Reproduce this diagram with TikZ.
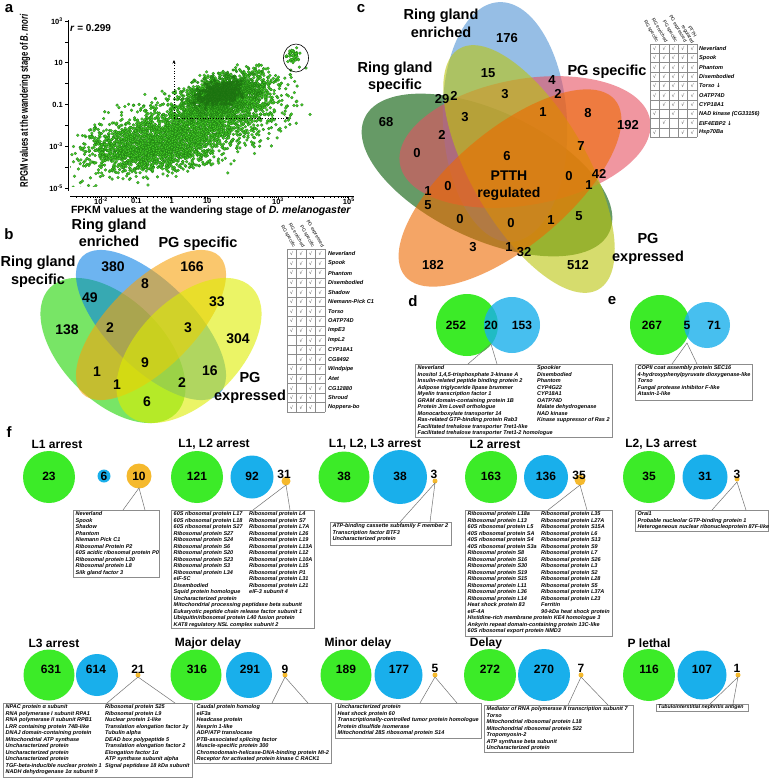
\documentclass[tikz,border=0pt]{standalone}
\usepackage{fontspec}
\setmainfont{Liberation Sans}
\newfontfamily\djv{DejaVu Sans}
\usetikzlibrary{arrows.meta}
\definecolor{dotg}{RGB}{70,205,40}
\definecolor{dotm}{RGB}{52,165,30}
\definecolor{dotc}{RGB}{35,120,20}
\definecolor{dotd}{RGB}{25,115,15}
\definecolor{fgreen}{RGB}{60,235,40}
\definecolor{fblue}{RGB}{25,175,235}
\definecolor{forange}{RGB}{245,185,45}
\definecolor{bgreen}{RGB}{30,213,0}
\definecolor{bblue}{RGB}{13,130,230}
\definecolor{borange}{RGB}{247,163,13}
\definecolor{byellow}{RGB}{222,238,0}
\definecolor{cgreen}{RGB}{0,88,0}
\definecolor{cblue}{RGB}{80,147,213}
\definecolor{cred}{RGB}{230,80,97}
\definecolor{cyellow}{RGB}{188,197,13}
\definecolor{corange}{RGB}{238,105,0}
\tikzset{
 plab/.style={font=\fontsize{15}{15}\selectfont\bfseries, inner sep=0},
 vlab/.style={font=\fontsize{14.5}{17.5}\selectfont\bfseries, align=center, inner sep=0},
 bnum/.style={font=\fontsize{14}{14}\selectfont\bfseries, inner sep=0},
 cnum/.style={font=\fontsize{13}{13}\selectfont\bfseries, inner sep=0},
 ttl/.style={font=\fontsize{12}{12}\selectfont\bfseries, inner sep=0},
 cnt/.style={font=\fontsize{12}{12}\selectfont\bfseries, inner sep=0},
 lst/.style={font=\fontsize{5.5}{6.5}\selectfont\bfseries\itshape, align=left, inner sep=0, anchor=north west},
 lbox/.style={draw=black!45, line width=0.6pt, fill=white},
 call/.style={draw=black!55, line width=0.5pt},
 tname/.style={font=\fontsize{5.6}{5.6}\selectfont\bfseries\itshape, anchor=west, inner sep=0},
 tchk/.style={font=\djv\fontsize{4.8}{4.8}\selectfont, text=black!75, inner sep=0},
 thead/.style={font=\fontsize{4.8}{5.2}\selectfont, anchor=east, rotate=-60, inner sep=0pt, align=center},
 tgrid/.style={draw=black!45, line width=0.3pt},
 axl/.style={line width=0.7pt, black},
 tick/.style={font=\fontsize{7.5}{7.5}\selectfont\bfseries, inner sep=0},
}
\begin{document}
\begin{tikzpicture}[x=1pt,y=-1pt]
\useasboundingbox (0,0) rectangle (778,780);
\fill[white] (0,0) rectangle (778,780);

% ---------------- panel labels
\node[plab] (la) at (9,9) {a};
\node[plab] (lb) at (9,234) {b};
\node[plab] (lc) at (361,9) {c};
\node[plab] (ld) at (413,301) {d};
\node[plab] (le) at (612,301) {e};
\node[plab] (lf) at (9,432) {f};

% ---------------- panel a : scatter
\begin{scope}
\clip (70,24) rectangle (340,186);
\pgfmathsetseed{4242}
\begin{scope}[fill=dotg, draw=dotd, line width=0.2pt]
\foreach \i in {1,...,2700}{
  \pgfmathsetmacro\ta{rand+rand+rand}
  \pgfmathsetmacro\tb{rand+rand+rand}
  \filldraw ({188+44*\ta},{128-12*\ta+17*\tb}) circle[radius=1.45];
}
\foreach \i in {1,...,900}{
  \pgfmathsetmacro\ta{rand+rand+rand}
  \pgfmathsetmacro\tb{rand+rand+rand}
  \filldraw ({148+30*\ta},{150+10*\tb}) circle[radius=1.45];
}
\foreach \i in {1,...,1100}{
  \pgfmathsetmacro\ta{rand+rand+rand}
  \pgfmathsetmacro\tb{rand+rand+rand}
  \filldraw ({224+22*\ta},{95-4*\ta+11*\tb}) circle[radius=1.45];
}
\foreach \i in {1,...,45}{
  \pgfmathsetmacro\ta{rand+rand+rand}
  \pgfmathsetmacro\tb{rand+rand+rand}
  \filldraw ({293+3.5*\ta},{56+4*\tb}) circle[radius=1.45];
}
\end{scope}
\begin{scope}[fill=dotm, draw=dotd, line width=0.2pt]
\foreach \i in {1,...,550}{
  \pgfmathsetmacro\ta{rand+rand+rand}
  \pgfmathsetmacro\tb{rand+rand+rand}
  \filldraw ({222+17*\ta},{94-3*\ta+9*\tb}) circle[radius=1.45];
}
\end{scope}
\begin{scope}[fill=dotc, draw=dotd, line width=0.2pt]
\foreach \i in {1,...,320}{
  \pgfmathsetmacro\ta{rand+rand+rand}
  \pgfmathsetmacro\tb{rand+rand+rand}
  \filldraw ({220+10*\ta},{93-2*\ta+5.5*\tb}) circle[radius=1.45];
}
\end{scope}
\end{scope}
\coordinate (clc) at (296,58);
\draw[line width=0.6pt] (clc) ellipse[x radius=12.5, y radius=14];
\coordinate (ao) at (174,118);
\coordinate (au) at (174,60);
\coordinate (ar) at (289,118);
\draw[dotted, line width=0.6pt, -{Stealth[length=3.5pt,width=3pt]}] (ao) -- (au);
\draw[dotted, line width=0.6pt, -{Stealth[length=3.5pt,width=3pt]}] (ao) -- (ar);
% axes
\coordinate (yat) at (68,20);
\coordinate (yab) at (68,191);
\coordinate (xal) at (70,196);
\coordinate (xar) at (354,196);
\draw[axl] (yat) -- (yab);
\draw[axl] (xal) -- (xar);
\foreach \k in {0,...,8}{ \draw[axl] (68,{21+20.9*\k}) -- ++(-3,0); }
\foreach \L in {-2,...,5}{ \draw[axl] ({101+35.4*(\L+2)},196) -- ++(0,2.5); }
\foreach \L in {-3,...,4}{ \foreach \k in {2,...,9}{
  \pgfmathsetmacro\xx{101+35.4*(\L+2)+35.4*ln(\k)/2.302585}
  \ifdim\xx pt>70pt \ifdim\xx pt<354pt \draw[line width=0.5pt] (\xx,196) -- ++(0,1.6); \fi\fi }}
\node[tick, anchor=east] (y3) at (63,21) {10\textsuperscript{3}};
\node[tick, anchor=east] (y1) at (63,62.8) {10};
\node[tick, anchor=east] (y0) at (63,104.6) {0.1};
\node[tick, anchor=east] (ym3) at (63,146.4) {10\textsuperscript{-3}};
\node[tick, anchor=east] (ym5) at (63,188.2) {10\textsuperscript{-5}};
\node[tick] (xm2) at (101,201) {10\textsuperscript{-2}};
\node[tick] (xm1) at (136.4,201) {0.1};
\node[tick] (x0) at (171.8,201) {1};
\node[tick] (x1) at (207.2,201) {10};
\node[tick] (x3) at (278,201) {10\textsuperscript{3}};
\node[tick] (x5) at (348.8,201) {10\textsuperscript{5}};
\node[font=\fontsize{10.5}{10.5}\selectfont\bfseries, inner sep=0] (xlab) at (211,210.5) {FPKM values at the wandering stage of \textit{D. melanogaster}};
\node[font=\fontsize{11}{11}\selectfont\bfseries, inner sep=0, rotate=90] (ylab) at (25,101) {\scalebox{0.7}[1]{RPGM values at the wandering stage of \textit{B. mori}}};
\node[font=\fontsize{10}{10}\selectfont\bfseries, anchor=west, inner sep=0] (rv) at (70,28) {\textit{r} = 0.299};

% ---------------- panel b : 4-set Venn
\begin{scope}[fill opacity=0.6]
\fill[bgreen, rotate around={-45:(113,350.5)}] (113,350.5) ellipse[x radius=89, y radius=51];
\fill[bblue, rotate around={-45:(151,325)}] (151,325) ellipse[x radius=97, y radius=43];
\fill[borange, rotate around={45:(151,325)}] (151,325) ellipse[x radius=97, y radius=43];
\fill[byellow, rotate around={45:(189,350.5)}] (189,350.5) ellipse[x radius=89, y radius=51];
\end{scope}
\node[vlab] (bl1) at (109,233) {Ring gland\\enriched};
\node[vlab] (bl2) at (38,271.5) {Ring gland\\specific};
\node[vlab] (bl3) at (198,244) {PG specific};
\node[vlab] (bl4) at (250,388) {PG\\expressed};
\foreach \n/\x/\y [count=\i] in {380/113/267, 166/192/267, 49/90/298, 8/145/284, 33/217/302, 138/67/330, 2/110/328, 3/188/328, 304/238/339, 9/145/363, 1/97/372, 16/210/371, 1/117/385, 2/182/383, 6/147/402}
  \node[bnum] (bn\i) at (\x,\y) {\n};

% table b
\foreach \j in {0,...,17} \draw[tgrid] (287,{249+9.6*\j}) -- (325,{249+9.6*\j});
\foreach \j in {0,...,4} \draw[tgrid] ({287+9.5*\j},249) -- ({287+9.5*\j},412.2);
\foreach \h [count=\k] in {RG specific, RG enriched, PG specific, PG expressed}
  \node[thead] (bh\k) at ({287+9.5*(\k-0.5)+2.5},247) {\h};
\foreach \r/\nm/\ca/\cb/\cc/\cd in {1/Neverland/1/1/1/1, 2/Spook/1/1/1/1, 3/Phantom/1/1/1/1, 4/Disembodied/1/1/1/1, 5/Shadow/1/1/1/1, 6/Niemann-Pick C1/1/1/1/1, 7/Torso/1/1/1/1, 8/OATP74D/1/1/1/1, 9/ImpE3/1/1/1/1, 10/ImpL2/0/1/1/1, 11/CYP18A1/0/1/1/1, 12/CG8492/0/1/1/1, 13/Windpipe/1/1/0/1, 14/Atet/1/1/0/1, 15/CG12880/1/0/1/1, 16/Shroud/1/1/1/0, 17/Noppera-bo/1/1/1/0}{
  \node[tname] (bt\r) at (328,{249+9.6*(\r-0.5)}) {\nm};
  \foreach \cv [count=\k] in {\ca,\cb,\cc,\cd}{
    \ifnum\cv=1 \node[tchk] (bk\r-\k) at ({287+9.5*(\k-0.5)},{249+9.6*(\r-0.5)}) {√};\fi }
}

% ---------------- panel c : 5-set Venn
\begin{scope}[fill opacity=0.6]
\fill[cgreen, rotate around={-25:(487,175)}] (487,175) ellipse[x radius=135, y radius=64];
\fill[cblue, rotate around={-87:(505,122)}] (505,122) ellipse[x radius=120, y radius=62];
\fill[cred, rotate around={10:(525,142)}] (525,142) ellipse[x radius=127, y radius=63];
\fill[cyellow, rotate around={-60:(529,169)}] (529,169) ellipse[x radius=139, y radius=58];
\fill[corange, rotate around={40:(510,188)}] (510,188) ellipse[x radius=137, y radius=58];
\end{scope}
\node[vlab] (cl1) at (441,23.5) {Ring gland\\enriched};
\node[vlab] (cl2) at (395,77) {Ring gland\\specific};
\node[vlab] (cl3) at (607,72) {PG specific};
\node[vlab] (cl4) at (648,249) {PG\\expressed};
\node[vlab, font=\fontsize{14}{17}\selectfont\bfseries] (cl5) at (509,185.5) {PTTH\\regulated};
\foreach \n/\x/\y [count=\i] in {176/507/38, 15/488/73, 4/552/80, 2/558/94, 29/442/99, 2/454/96, 3/505/94, 1/543/112, 8/588/113, 3/465/117, 68/386/122, 192/628/125, 2/442/135, 0/417/153, 7/581/146, 6/507/156, 0/569/176, 42/599/174, 1/589/185, 0/448/186, 1/428/191, 5/428/205, 0/460/219, 0/511/223, 1/551/220, 5/579/216, 3/473/247, 1/509/247, 32/524/252, 182/433/265, 512/578/265}
  \node[cnum] (cn\i) at (\x,\y) {\n};

% table c
\foreach \j in {0,...,10} \draw[tgrid] (650,{44+9.3*\j}) -- (697,{44+9.3*\j});
\foreach \j in {0,...,5} \draw[tgrid] ({650+9.4*\j},44) -- ({650+9.4*\j},137);
\foreach \h [count=\k] in {RG specific, RG enriched, PG specific, PG expressed, PTTH\\regulated}
  \node[thead] (ch\k) at ({650+9.4*(\k-0.5)+2.5},42) {\h};
\foreach \r/\nm/\ca/\cb/\cc/\cd/\ce in {1/Neverland/1/1/1/1/1, 2/Spook/1/1/1/1/1, 3/Phantom/1/1/1/1/1, 4/Disembodied/1/1/1/1/1, 5/{Torso {\djv ↓}}/1/1/1/1/1, 6/OATP74D/1/1/1/1/1, 7/CYP18A1/0/1/1/1/1, 8/{NAD kinase (CG33156)}/1/0/1/0/1, 9/{EIF4EBP2 {\djv ↓}}/0/1/0/1/1, 10/Hsp70Ba/1/0/0/1/1}{
  \node[tname] (ct\r) at (699,{44+9.3*(\r-0.5)}) {\nm};
  \foreach \cv [count=\k] in {\ca,\cb,\cc,\cd,\ce}{
    \ifnum\cv=1 \node[tchk] (ck\r-\k) at ({650+9.4*(\k-0.5)},{44+9.3*(\r-0.5)}) {√};\fi }
}

% ---------------- panel d
\fill[fgreen] (467,325) circle[radius=31];
\fill[fblue, opacity=0.8] (512,325) circle[radius=28];
\node[cnt] (d1) at (456,325) {252};
\node[cnt] (d2) at (491,325) {20};
\node[cnt] (d3) at (522,325) {153};
\coordinate (dap) at (491,344);
\coordinate (dba) at (415,364);
\coordinate (dbb) at (612,437);
\coordinate (dp1) at (468,364);
\coordinate (dp2) at (497,364);
\draw[lbox] (dba) rectangle (dbb);
\draw[call] (dp1) -- (dap) -- (dp2);
\node[lst] (dt1) at (417.5,365.5) {Neverland\\Inositol 1,4,5-trisphosphate 3-kinase A\\Insulin-related peptide binding protein 2\\Adipose triglyceride lipase brummer\\Myelin transcription factor 1\\GRAM domain-containing protein 1B\\Protein Jim Lovell orthologue\\Monocarboxylate transporter 14\\Ras-related GTP-binding protein Rab3\\Facilitated trehalose transporter Tret1-like\\Facilitated trehalose transporter Tret1-2 homologue};
\node[lst] (dt2) at (537,365.5) {Spookier\\Disembodied\\Phantom\\CYP4G22\\CYP18A1\\OATP74D\\Malate dehydrogenase\\NAD kinase\\Kinase suppressor of Ras 2};

% ---------------- panel e
\fill[fgreen] (660,325) circle[radius=30];
\fill[fblue, opacity=0.8] (707,325) circle[radius=23];
\node[cnt] (e1) at (652,325) {267};
\node[cnt] (e2) at (687,325) {5};
\node[cnt] (e3) at (714,325) {71};
\coordinate (eap) at (687,343);
\coordinate (eba) at (635,364);
\coordinate (ebb) at (752,400);
\coordinate (ep1) at (672,364);
\coordinate (ep2) at (697,364);
\draw[lbox] (eba) rectangle (ebb);
\draw[call] (ep1) -- (eap) -- (ep2);
\node[lst] (et1) at (637.5,365.5) {COPII coat assembly protein SEC16\\4-hydroxyphenylpyruvate dioxygenase-like\\Torso\\Fungal protease inhibitor F-like\\Ataxin-1-like};

% ---------------- panel f, row 1
\node[ttl] (t1) at (57,444) {L1 arrest};
\node[ttl] (t2) at (214,444) {L1, L2 arrest};
\node[ttl] (t3) at (375,444) {L1, L2, L3 arrest};
\node[ttl] (t4) at (495,444) {L2 arrest};
\node[ttl] (t5) at (661,444) {L2, L3 arrest};
% L1
\fill[fgreen] (49,477) circle[radius=26];
\fill[fblue] (104,476) circle[radius=6.5];
\fill[forange] (139,476) circle[radius=12.5];
\node[cnt] (n11) at (49,476) {23};
\node[cnt] (n12) at (104,476) {6};
\node[cnt] (n13) at (139,476) {10};
\coordinate (a1) at (139,488);
\coordinate (p1a) at (123,510);
\coordinate (p1b) at (145,510);
\coordinate (b1a) at (73,510);
\coordinate (b1b) at (159,577);
\draw[lbox] (b1a) rectangle (b1b);
\draw[call] (p1a) -- (a1) -- (p1b);
\node[lst] (l1) at (75.5,511.5) {Neverland\\Spook\\Shadow\\Phantom\\Niemann Pick C1\\Ribosomal Protein P2\\60S acidic ribosomal protein P0\\Ribosomal protein L30\\Ribosomal protein L8\\Silk gland factor 3};
% L1 L2
\fill[fgreen] (197,477) circle[radius=26];
\fill[fblue] (252,477) circle[radius=21.5];
\fill[forange] (286,481) circle[radius=4.5];
\node[cnt] (n21) at (197,476) {121};
\node[cnt] (n22) at (252,476) {92};
\node[cnt] (n23) at (284,474) {31};
\coordinate (a2) at (286,485);
\coordinate (p2a) at (253,510);
\coordinate (p2b) at (290,510);
\coordinate (b2a) at (171,510);
\coordinate (b2b) at (314,628.5);
\draw[lbox] (b2a) rectangle (b2b);
\draw[call] (p2a) -- (a2) -- (p2b);
\node[lst] (l2a) at (173.5,511.5) {60S ribosomal protein L17\\60S ribosomal protein L18\\60S ribosomal protein S27\\Ribosomal protein S27\\Ribosomal protein S24\\Ribosomal protein S6\\Ribosomal protein S20\\Ribosomal protein S23\\Ribosomal protein S3\\Ribosomal protein L34\\eIF-5C\\Disembodied\\Squid protein homologue\\Uncharacterized protein\\Mitochondrial processing peptidase beta subunit\\Eukaryotic peptide chain release factor subunit 1\\Ubiquitin/ribosomal protein L40 fusion protein\\KAT8 regulatory NSL complex subunit 2};
\node[lst] (l2b) at (249,511.5) {Ribosomal protein L4\\Ribosomal protein S7\\Ribosomal protein L7A\\Ribosomal protein L26\\Ribosomal protein L19\\Ribosomal protein L13A\\Ribosomal protein L12\\Ribosomal protein L10A\\Ribosomal protein L15\\Ribosomal protein P1\\Ribosomal protein L31\\Ribosomal protein L21\\eIF-3 subunit 4};
% L1 L2 L3
\fill[fgreen] (344,477) circle[radius=25.5];
\fill[fblue] (400,477) circle[radius=27];
\fill[forange] (435,481) circle[radius=2.5];
\node[cnt] (n31) at (344,476) {38};
\node[cnt] (n32) at (400,476) {38};
\node[cnt] (n33) at (434,474) {3};
\coordinate (a3) at (435,483);
\coordinate (p3a) at (400,522);
\coordinate (p3b) at (430,522);
\coordinate (b3a) at (330,522);
\coordinate (b3b) at (451,545);
\draw[lbox] (b3a) rectangle (b3b);
\draw[call] (p3a) -- (a3) -- (p3b);
\node[lst] (l3) at (332.5,523.5) {ATP-binding cassette subfamily F member 2\\Transcription factor BTF3\\Uncharacterized protein};
% L2
\fill[fgreen] (491,477) circle[radius=26];
\fill[fblue] (546,477) circle[radius=22];
\fill[forange] (580,480) circle[radius=5.5];
\node[cnt] (n41) at (491,476) {163};
\node[cnt] (n42) at (546,476) {136};
\node[cnt] (n43) at (579,475) {35};
\coordinate (a4) at (580,485);
\coordinate (p4a) at (548,510);
\coordinate (p4b) at (587,510);
\coordinate (b4a) at (465,510);
\coordinate (b4b) at (612,636);
\draw[lbox] (b4a) rectangle (b4b);
\draw[call] (p4a) -- (a4) -- (p4b);
\node[lst] (l4a) at (467.5,511.5) {Ribosomal protein L18a\\Ribosomal protein L13\\60S ribosomal protein L5\\40S ribosomal protein SA\\40S ribosomal protein S4\\40S ribosomal protein S3a\\Ribosomal protein S8\\Ribosomal protein S16\\Ribosomal protein S30\\Ribosomal protein S19\\Ribosomal protein S15\\Ribosomal protein L11\\Ribosomal protein L36\\Ribosomal protein L14\\Heat shock protein 83\\eIF-4A\\Histidine-rich membrane protein KE4 homologue 3\\Ankyrin repeat domain-containing protein 13C-like\\60S ribosomal export protein NMD3};
\node[lst] (l4b) at (541,511.5) {Ribosomal protein L35\\Ribosomal protein L27A\\Ribosomal protein S15A\\Ribosomal protein L6\\Ribosomal protein S13\\Ribosomal protein S9\\Ribosomal protein L7\\Ribosomal protein S26\\Ribosomal protein L3\\Ribosomal protein S2\\Ribosomal protein L28\\Ribosomal protein S5\\Ribosomal protein L37A\\Ribosomal protein L23\\Ferritin\\90-kDa heat shock protein};
% L2 L3
\fill[fgreen] (649,477) circle[radius=26];
\fill[fblue] (705,477) circle[radius=22.5];
\fill[forange] (737,479) circle[radius=2.5];
\node[cnt] (n51) at (649,476) {35};
\node[cnt] (n52) at (705,476) {31};
\node[cnt] (n53) at (737,474) {3};
\coordinate (a5) at (737,482);
\coordinate (p5a) at (712,510);
\coordinate (p5b) at (746,510);
\coordinate (b5a) at (635,510);
\coordinate (b5b) at (768,531);
\draw[lbox] (b5a) rectangle (b5b);
\draw[call] (p5a) -- (a5) -- (p5b);
\node[lst] (l5) at (637.5,511.5) {Orai1\\Probable nucleolar GTP-binding protein 1\\Heterogeneous nuclear ribonucleoprotein 87F-like};

% ---------------- panel f, row 2
\node[ttl] (t6) at (54,643) {L3 arrest};
\node[ttl] (t7) at (208,643) {Major delay};
\node[ttl] (t8) at (358,643) {Minor delay};
\node[ttl] (t9) at (486,643) {Delay};
\node[ttl] (t10) at (649,643) {P lethal};
% L3
\fill[fgreen] (49,675) circle[radius=25.5];
\fill[fblue] (97,675) circle[radius=21];
\fill[forange] (138,675) circle[radius=2.5];
\node[cnt] (n61) at (51,669) {631};
\node[cnt] (n62) at (96,669) {614};
\node[cnt] (n63) at (138,669) {21};
\coordinate (a6) at (138,677);
\coordinate (p6a) at (107,703);
\coordinate (p6b) at (175,703);
\coordinate (b6a) at (3,703);
\coordinate (b6b) at (192,777);
\draw[lbox] (b6a) rectangle (b6b);
\draw[call] (p6a) -- (a6) -- (p6b);
\node[lst] (l6a) at (5.5,704.5) {NPAC protein α subunit\\RNA polymerase I subunit RPA1\\RNA polymerase II subunit RPB1\\LRR containing protein 74B-like\\DNAJ domain-containing protein\\Mitochondrial ATP synthase\\Uncharacterized protein\\Uncharacterized protein\\Uncharacterized protein\\TGF-beta-inducible nuclear protein 1\\NADH dehydrogenase 1α subunit 9};
\node[lst] (l6b) at (105,704.5) {Ribosomal protein S25\\Ribosomal protein L9\\Nuclear protein 1-like\\Translation elongation factor 1γ\\Tubulin alpha\\DEAD box polypeptide 5\\Translation elongation factor 2\\Elongation factor 1α\\ATP synthase subunit alpha\\Signal peptidase 18 kDa subunit};
% Major delay
\fill[fgreen] (196,675) circle[radius=25.5];
\fill[fblue] (249,675) circle[radius=23];
\fill[forange] (285,675) circle[radius=2.5];
\node[cnt] (n71) at (197,669) {316};
\node[cnt] (n72) at (250,669) {291};
\node[cnt] (n73) at (285,669) {9};
\coordinate (a7) at (285,677);
\coordinate (p7a) at (272,703);
\coordinate (p7b) at (308,703);
\coordinate (b7a) at (194,703);
\coordinate (b7b) at (331,763.5);
\draw[lbox] (b7a) rectangle (b7b);
\draw[call] (p7a) -- (a7) -- (p7b);
\node[lst] (l7) at (196.5,704.5) {Caudal protein homolog\\eIF3a\\Headcase protein\\Nesprin 1-like\\ADP/ATP translocase\\PTB-associated splicing factor\\Muscle-specific protein 300\\Chromodomain-helicase-DNA-binding protein Mi-2\\Receptor for activated protein kinase C RACK1};
% Minor delay
\fill[fgreen] (346,675) circle[radius=25.5];
\fill[fblue] (398.5,675) circle[radius=24];
\fill[forange] (435,675) circle[radius=2.5];
\node[cnt] (n81) at (346,669) {189};
\node[cnt] (n82) at (399,669) {177};
\node[cnt] (n83) at (435,668) {5};
\coordinate (a8) at (435,677);
\coordinate (p8a) at (420,703);
\coordinate (p8b) at (457,703);
\coordinate (b8a) at (335,703);
\coordinate (b8b) at (481,738);
\draw[lbox] (b8a) rectangle (b8b);
\draw[call] (p8a) -- (a8) -- (p8b);
\node[lst] (l8) at (337.5,704.5) {Uncharacterized protein\\Heat shock protein 60\\Transcriptionally-controlled tumor protein homologue\\Protein disulfide isomerase\\Mitochondrial 28S ribosomal protein S14};
% Delay
\fill[fgreen] (490,675) circle[radius=26];
\fill[fblue] (544,675) circle[radius=26];
\fill[forange] (581,675) circle[radius=2.5];
\node[cnt] (n91) at (490,669) {272};
\node[cnt] (n92) at (544,669) {270};
\node[cnt] (n93) at (581,668) {7};
\coordinate (a9) at (581,677);
\coordinate (p9a) at (568,705);
\coordinate (p9b) at (608,705);
\coordinate (b9a) at (484,705);
\coordinate (b9b) at (633,752);
\draw[lbox] (b9a) rectangle (b9b);
\draw[call] (p9a) -- (a9) -- (p9b);
\node[lst] (l9) at (486.5,706.5) {Mediator of RNA polymerase II transcription subunit 7\\Torso\\Mitochondrial ribosomal protein L18\\Mitochondrial ribosomal protein S22\\Tropomyosin-2\\ATP synthase beta subunit\\Uncharacterized protein};
% P lethal
\fill[fgreen] (649,675) circle[radius=26];
\fill[fblue] (702,675) circle[radius=24.5];
\fill[forange] (738,675) circle[radius=2.5];
\node[cnt] (n101) at (649,669) {116};
\node[cnt] (n102) at (702,669) {107};
\node[cnt] (n103) at (737,668) {1};
\coordinate (a10) at (738,677);
\coordinate (p10a) at (710,704);
\coordinate (p10b) at (733,704);
\coordinate (b10a) at (656,704);
\coordinate (b10b) at (748,711);
\draw[lbox] (b10a) rectangle (b10b);
\draw[call] (p10a) -- (a10) -- (p10b);
\node[lst, font=\fontsize{5.2}{6}\selectfont\bfseries\itshape] (l10) at (658,705) {Tubulointerstitial nephritis antigen};
\end{tikzpicture}
\end{document}
